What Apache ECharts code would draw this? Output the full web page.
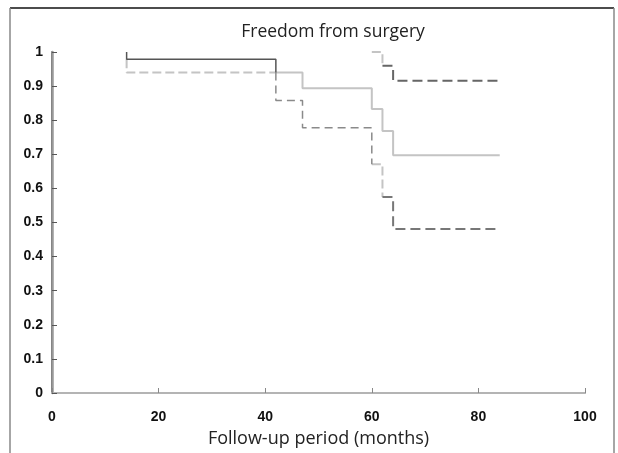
<!DOCTYPE html>
<html>
<head>
<meta charset="utf-8">
<script src="https://cdn.jsdelivr.net/npm/echarts@6/dist/echarts.min.js"></script>
<style>html,body{margin:0;padding:0;background:#fff}#c{width:618px;height:453px}</style>
</head>
<body>
<div id="c"></div>
<script>
// Axis ticks
const xTicks = [0, 20, 40, 60, 80, 100];
const yTicks = [0, 0.1, 0.2, 0.3, 0.4, 0.5, 0.6, 0.7, 0.8, 0.9, 1];

// Survival curve pieces [month, proportion], split by drawing style
const darkSolidTop = [[14, 1], [14, 0.979], [42, 0.979], [42, 0.94]];
const lightDashedEarly = [[14, 0.979], [14, 0.94], [42, 0.94]];
const lightSolidMiddle = [[42, 0.94], [47, 0.94], [47, 0.894], [60, 0.894], [60, 0.833], [62, 0.833], [62, 0.768], [64, 0.768], [64, 0.697], [84, 0.697]];
const midDashedLower = [[42, 0.94], [42, 0.858], [47, 0.858], [47, 0.778], [60, 0.778], [60, 0.671]];
const lightDashedLower = [[60, 0.671], [62, 0.671], [62, 0.575]];
const darkDashedLower = [[62, 0.575], [64, 0.575], [64, 0.481], [84, 0.481]];
const lightDashedUpper = [[60, 1], [62, 1], [62, 0.96]];
const darkDashedUpper = [[62, 0.96], [64, 0.96], [64, 0.916], [84, 0.916]];

function seg(data, color, type, width) {
  return {
    type: 'line', data: data, symbol: 'none', silent: true,
    lineStyle: { color: color, type: type, width: width || 1.5 }
  };
}

const chart = echarts.init(document.getElementById('c'), null, { renderer: 'canvas' });
chart.setOption({
  animation: false,
  title: {
    text: 'Freedom from surgery', left: 328, top: 18, textAlign: 'center',
    textStyle: { fontFamily: 'Open Sans', fontSize: 17.5, fontWeight: 'normal', color: '#222' }
  },
  grid: { left: 52, right: 33, top: 52, bottom: 58 },
  xAxis: [{
    type: 'value', min: 0, max: 100, interval: 20,
    name: 'Follow-up period (months)', nameLocation: 'middle', nameGap: 37,
    nameTextStyle: { fontFamily: 'Open Sans', fontSize: 18, color: '#222' },
    axisLine: { show: true, onZero: false, lineStyle: { color: '#a0a0a0', width: 2 } },
    axisTick: { show: true, inside: true, length: 5, lineStyle: { color: '#888', width: 1 } },
    axisLabel: { fontFamily: 'Liberation Sans', fontSize: 14, fontWeight: 'bold', color: '#111', margin: 17,
      formatter: v => xTicks.includes(v) ? String(v) : '' },
    splitLine: { show: false }
  }, {
    type: 'value', min: 0, max: 100, position: 'top',
    axisLine: { show: true, lineStyle: { color: '#bbb', width: 1.5 } },
    axisTick: { show: false }, axisLabel: { show: false }, splitLine: { show: false }
  }],
  yAxis: [{
    type: 'value', min: 0, max: 1, interval: 0.1,
    axisLine: { show: true, onZero: false, lineStyle: { color: '#111', width: 1.5 } },
    axisTick: { show: true, inside: true, length: 5, lineStyle: { color: '#555', width: 1 } },
    axisLabel: { fontFamily: 'Liberation Sans', fontSize: 14, fontWeight: 'bold', color: '#111', margin: 9,
      formatter: v => { const t = yTicks.find(k => Math.abs(k - v) < 1e-9); return t === undefined ? '' : String(t); } },
    splitLine: { show: false }
  }, {
    type: 'value', min: 0, max: 1, position: 'right',
    axisLine: { show: true, lineStyle: { color: '#999', width: 2.5 } },
    axisTick: { show: false }, axisLabel: { show: false }, splitLine: { show: false }
  }],
  series: [
    seg(lightSolidMiddle, '#c4c4c4', 'solid', 2),
    seg(lightDashedEarly, '#c4c4c4', [9, 4], 2),
    seg(lightDashedLower, '#c4c4c4', [9, 4], 2),
    seg(lightDashedUpper, '#c4c4c4', [9, 4], 2),
    seg(midDashedLower, '#8a8a8a', [8, 5], 1.5),
    seg(darkDashedLower, '#777', [10, 5], 2),
    seg(darkDashedUpper, '#666', [10, 5], 2),
    seg(darkSolidTop, '#555', 'solid', 1.5)
  ],
  graphic: [
    { type: 'line', shape: { x1: 10, y1: 8, x2: 614, y2: 8 }, style: { stroke: '#111', lineWidth: 1.5 } },
    { type: 'line', shape: { x1: 10, y1: 8, x2: 10, y2: 453 }, style: { stroke: '#888', lineWidth: 1.5 } },
    { type: 'line', shape: { x1: 614, y1: 8, x2: 614, y2: 453 }, style: { stroke: '#888', lineWidth: 1.5 } }
  ]
});
</script>
</body>
</html>
